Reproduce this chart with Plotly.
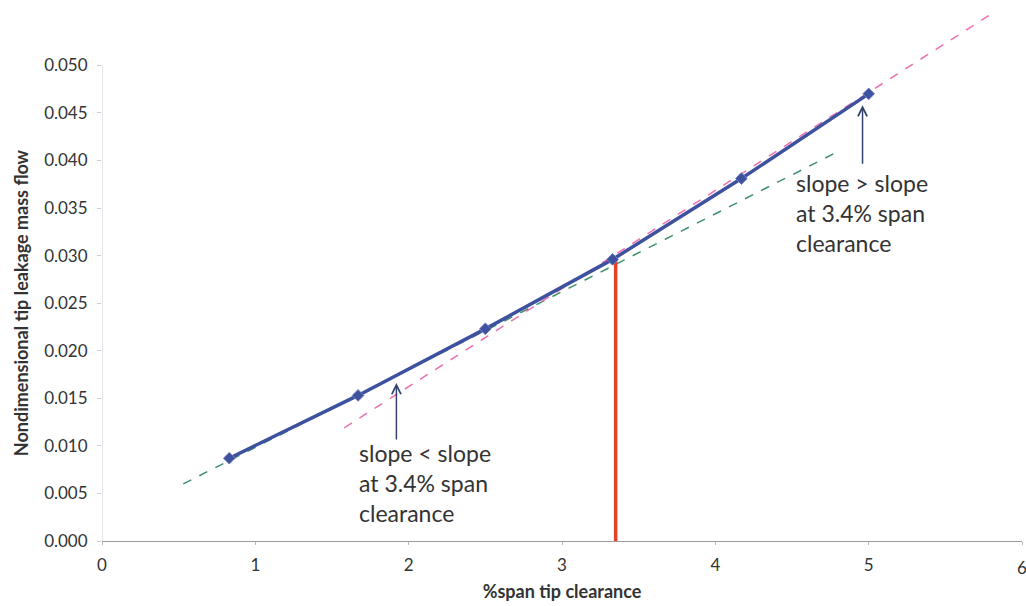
import plotly.graph_objects as go

# Data
clearance = [0.83, 1.67, 2.5, 3.33, 4.17, 5.0]
mass_flow = [0.0087, 0.0153, 0.0223, 0.0296, 0.0381, 0.0470]
green_x = [0.53, 4.82]
green_y = [0.0060, 0.0411]
pink_x = [1.58, 5.80]
pink_y = [0.0119, 0.0554]
ref_x = [3.35, 3.35]
ref_y = [0.0, 0.0296]
x_ticks = [0, 1, 2, 3, 4, 5, 6]
y_ticks = [0.000, 0.005, 0.010, 0.015, 0.020, 0.025, 0.030, 0.035, 0.040, 0.045, 0.050]
label_lo = "slope < slope<br>at 3.4% span<br>clearance"
label_hi = "slope > slope<br>at 3.4% span<br>clearance"

FONT = "Lato, 'Open Sans', sans-serif"

fig = go.Figure()
fig.add_trace(go.Scatter(x=green_x, y=green_y, mode="lines",
                         line=dict(color="#3f8f6a", width=1.5, dash="dash"), showlegend=False))
fig.add_trace(go.Scatter(x=pink_x, y=pink_y, mode="lines",
                         line=dict(color="#ee6fb0", width=1.5, dash="dash"), showlegend=False,
                         cliponaxis=False))
fig.add_trace(go.Scatter(x=ref_x, y=ref_y, mode="lines",
                         line=dict(color="#e4412b", width=3.5), showlegend=False))
fig.add_trace(go.Scatter(x=clearance, y=mass_flow, mode="lines+markers",
                         line=dict(color="#3d519e", width=3.5),
                         marker=dict(symbol="diamond", size=9, color="#3d519e",
                                     line=dict(color="#6f7fc0", width=1)),
                         showlegend=False))

# y axis line only from 0 to 0.050
fig.add_shape(type="line", xref="x", yref="y", x0=0, x1=0, y0=0, y1=y_ticks[-1],
              line=dict(color="#c8ccd6", width=1))

fig.update_xaxes(range=[0, 6], tickvals=x_ticks, showgrid=False, zeroline=False,
                 showline=True, linecolor="#9a9a9a", linewidth=1,
                 ticks="outside", ticklen=3, tickcolor="#bbbbbb", ticklabelstandoff=6,
                 tickfont=dict(family=FONT, size=17, color="#333333"),
                 title=dict(text="<b>%span tip clearance</b>",
                            font=dict(family=FONT, size=18, color="#333333"), standoff=10))
fig.update_yaxes(range=[0, 0.0555], tickvals=y_ticks, tickformat=".3f", showgrid=False,
                 zeroline=False, showline=False,
                 ticks="outside", ticklen=4, tickcolor="#c8ccd6", ticklabelstandoff=6,
                 tickfont=dict(family=FONT, size=17, color="#333333"))

annotations = [
    dict(x=0, xref="paper", xanchor="center", xshift=-81, y=0.025, yref="y",
         text="<b>Nondimensional tip leakage mass flow</b>", textangle=-90,
         showarrow=False, font=dict(family=FONT, size=18, color="#333333")),
    dict(x=6, y=0, xref="x", yref="y", yanchor="top", yshift=-14, xanchor="center",
         text="6", showarrow=False, font=dict(family=FONT, size=17, color="#333333")),
    dict(x=1.92, y=0.0166, xref="x", yref="y", ax=0, ay=58, showarrow=True,
         arrowhead=5, arrowsize=1.2, arrowwidth=1.5, arrowcolor="#33426f", text=""),
    dict(x=4.96, y=0.0458, xref="x", yref="y", ax=0, ay=60, showarrow=True,
         arrowhead=5, arrowsize=1.2, arrowwidth=1.5, arrowcolor="#33426f", text=""),
    dict(x=1.66, y=0.0109, xref="x", yref="y", xanchor="left", yanchor="top",
         text=label_lo, showarrow=False, align="left",
         font=dict(family=FONT, size=23, color="#333333")),
    dict(x=4.51, y=0.0393, xref="x", yref="y", xanchor="left", yanchor="top",
         text=label_hi, showarrow=False, align="left",
         font=dict(family=FONT, size=23, color="#333333")),
]
fig.update_layout(width=1026, height=606, margin=dict(l=102, r=4, t=13, b=65),
                  paper_bgcolor="white", plot_bgcolor="white", annotations=annotations)

fig.write_html("out.html")
